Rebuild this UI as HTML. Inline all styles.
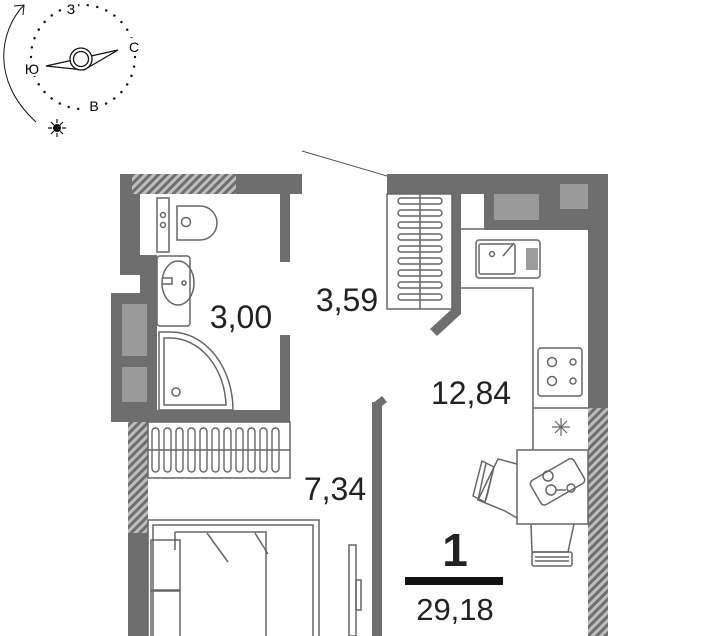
<!DOCTYPE html>
<html><head><meta charset="utf-8"><style>
html,body{margin:0;padding:0;background:#fff;}
svg{display:block;font-family:"Liberation Sans",sans-serif;}
</style></head><body>
<svg width="720" height="636" viewBox="0 0 720 636" xmlns="http://www.w3.org/2000/svg">
<defs>
<pattern id="h" width="6" height="6" patternUnits="userSpaceOnUse" patternTransform="rotate(45)">
<rect width="6" height="6" fill="#bdbdbd"/><rect width="3" height="6" fill="#6e6e6e"/>
</pattern>
</defs>
<!-- compass -->
<circle cx="83" cy="57" r="52" fill="none" stroke="#111" stroke-width="2.4" stroke-dasharray="0.1 9.5" stroke-linecap="round"/>
<rect x="64" y="0" width="14" height="14" fill="#fff"/>
<rect x="123" y="38" width="16" height="16" fill="#fff"/>
<rect x="20" y="60" width="18" height="16" fill="#fff"/>
<rect x="84" y="96" width="18" height="16" fill="#fff"/>
<text x="71" y="14" font-size="14" text-anchor="middle">З</text>
<text x="134" y="52" font-size="14" text-anchor="middle">С</text>
<text x="32" y="74" font-size="14" text-anchor="middle">Ю</text>
<text x="94" y="111" font-size="14" text-anchor="middle">В</text>
<path d="M46 66 L118 50 L84 70 Z" fill="none" stroke="#111" stroke-width="1.3"/>
<circle cx="81" cy="59" r="11" fill="#fff" stroke="#111" stroke-width="1.3"/>
<circle cx="81" cy="59" r="7.5" fill="none" stroke="#111" stroke-width="1.3"/>
<path d="M36 122 C -10 80, 0 30, 24 5" fill="none" stroke="#111" stroke-width="1"/>
<path d="M14 6 L24 5 L23 15" fill="none" stroke="#111" stroke-width="1"/>
<circle cx="57" cy="128" r="4" fill="#111"/>
<g stroke="#111" stroke-width="1.2"><path d="M57 119v4M57 133v4M48 128h4M62 128h4M51 122l3 3M60 131l3 3M63 122l-3 3M51 134l3-3"/></g>
<line x1="302" y1="151" x2="387" y2="176" stroke="#555" stroke-width="1"/>

<g fill="#6e6e6e">
<rect x="120" y="174" width="182" height="20"/>
<rect x="120" y="174" width="20" height="81"/>
<rect x="120" y="255" width="37" height="20"/>
<rect x="140" y="255" width="17" height="167"/>
<rect x="111" y="293" width="46" height="129"/>
<rect x="111" y="410" width="179" height="12"/>
<rect x="280" y="194" width="10" height="68"/>
<rect x="280" y="335" width="10" height="80"/>
<rect x="128" y="533" width="20" height="103"/>
<rect x="372" y="402" width="10" height="234"/>
<rect x="387" y="174" width="221" height="20"/>
<rect x="588" y="174" width="20" height="234"/>
<rect x="484" y="194" width="104" height="36"/>
<rect x="452" y="194" width="9" height="120"/>
</g>
<rect x="132" y="174" width="104" height="20" fill="url(#h)"/>
<rect x="128" y="422" width="20" height="111" fill="url(#h)"/>
<rect x="588" y="408" width="20" height="228" fill="url(#h)"/>
<path d="M372 404 L382 396 L387 402 L382 406 Z" fill="#6e6e6e"/>
<path d="M453 308 L461 314 L437 336 L430 329 Z" fill="#6e6e6e"/>
<g fill="#9a9a9a">
<rect x="122" y="304" width="25" height="52"/>
<rect x="122" y="367" width="25" height="35"/>
<rect x="494" y="194" width="45" height="26"/>
<rect x="560" y="184" width="28" height="25"/>
</g>

<g fill="none" stroke="#666" stroke-width="1.5">
<rect x="157" y="198" width="12" height="54"/>
<circle cx="163" cy="215" r="2.5"/><circle cx="163" cy="225" r="2.5"/>
<path d="M177 206 H200 A16 16 0 0 1 200 240 H177 Z"/>
<circle cx="186" cy="222" r="4.5"/>
<rect x="157" y="256" width="33" height="70" rx="3"/>
<ellipse cx="178" cy="283" rx="16" ry="22"/>
<path d="M162 278 h10 v6 h-10"/><circle cx="184" cy="283" r="2"/>
<path d="M159 332 H171 A62 78 0 0 1 233 410 H159 Z"/>
<path d="M164 338 H170 A56 70 0 0 1 226 405 H164 Z"/>
<circle cx="176" cy="392" r="4"/>
<rect x="148" y="422" width="142" height="56"/>
<rect x="387" y="194" width="65" height="115"/>
<line x1="420" y1="194" x2="420" y2="309"/>
<path d="M461 229 H484 M461 288 H533 V450 M533 408 H588"/>
<rect x="476" y="240" width="64" height="38" rx="3"/>
<rect x="479" y="244" width="36" height="30" rx="2"/>
<circle cx="492" cy="254" r="2.5"/>
<path d="M503 256 L514 243"/>
<rect x="538" y="348" width="44" height="48" rx="3"/>
<circle cx="552" cy="362" r="4.5"/><circle cx="552" cy="381" r="4.5"/>
<circle cx="573" cy="362" r="3"/><circle cx="573" cy="381" r="3"/>
<path d="M561 418 v18 M552 427 h18 M555 421 l12 12 M567 421 l-12 12" stroke-width="1.2"/>
<rect x="517" y="450" width="71" height="74"/>
<g transform="rotate(-30 557 481)"><rect x="532" y="468" width="50" height="28" rx="4"/></g>
<circle cx="548" cy="476" r="5"/><circle cx="551" cy="490" r="5"/>
<path d="M556 490 h10"/><circle cx="571" cy="488" r="4"/>
<path d="M517 464 L498 459 L478 500 L505 511 L517 518"/>
<path d="M486 463 L478 500 M494 467 L486 500 M482 461 L494 467 L485 502 L473 496 Z"/>
<path d="M531 524 L532 552 L568 552 L574 524"/>
<rect x="532" y="552" width="40" height="14" rx="2"/>
<path d="M535 557 h34 M535 561 h34"/>
<rect x="148" y="520" width="171" height="130"/>
<rect x="153" y="525" width="160" height="120"/>
<path d="M175 532 H266 V645 M175 532 V550"/>
<rect x="151" y="540" width="29" height="50"/>
<rect x="151" y="591" width="29" height="50"/>
<path d="M207 533 L228 562 M255 533 L268 554"/>
<rect x="349" y="545" width="7" height="91"/>
<rect x="356" y="580" width="5" height="30"/>
</g>
<g stroke="#666" stroke-width="1.4" fill="none">
<rect x="398" y="198" width="44" height="6" rx="3"/>
<rect x="398" y="210" width="44" height="6" rx="3"/>
<rect x="398" y="222" width="44" height="6" rx="3"/>
<rect x="398" y="234" width="44" height="6" rx="3"/>
<rect x="398" y="246" width="44" height="6" rx="3"/>
<rect x="398" y="258" width="44" height="6" rx="3"/>
<rect x="398" y="270" width="44" height="6" rx="3"/>
<rect x="398" y="282" width="44" height="6" rx="3"/>
<rect x="398" y="294" width="44" height="6" rx="3"/>
</g>
<g stroke="#666" stroke-width="1.3">
<path d="M527 248v22M529 248v22M531 248v22M533 248v22M535 248v22M537 248v22"/>
</g>
<g stroke="#666" stroke-width="1.4" fill="none">
<rect x="152" y="428" width="7" height="44" rx="3.5"/>
<rect x="164" y="428" width="7" height="44" rx="3.5"/>
<rect x="176" y="428" width="7" height="44" rx="3.5"/>
<rect x="188" y="428" width="7" height="44" rx="3.5"/>
<rect x="200" y="428" width="7" height="44" rx="3.5"/>
<rect x="212" y="428" width="7" height="44" rx="3.5"/>
<rect x="224" y="428" width="7" height="44" rx="3.5"/>
<rect x="236" y="428" width="7" height="44" rx="3.5"/>
<rect x="248" y="428" width="7" height="44" rx="3.5"/>
<rect x="260" y="428" width="7" height="44" rx="3.5"/>
<rect x="272" y="428" width="7" height="44" rx="3.5"/>
<line x1="148" y1="450" x2="290" y2="450"/>
</g>

<g fill="#222" text-anchor="middle">
<text x="241" y="328" font-size="32">3,00</text>
<text x="347" y="311" font-size="32">3,59</text>
<text x="471" y="404" font-size="32">12,84</text>
<text x="335" y="500" font-size="32">7,34</text>
<text x="455" y="566" font-size="46" font-weight="bold">1</text>
<text x="455" y="620" font-size="31">29,18</text>
</g>
<rect x="405" y="577" width="98" height="8" fill="#111"/>
</svg>
</body></html>
